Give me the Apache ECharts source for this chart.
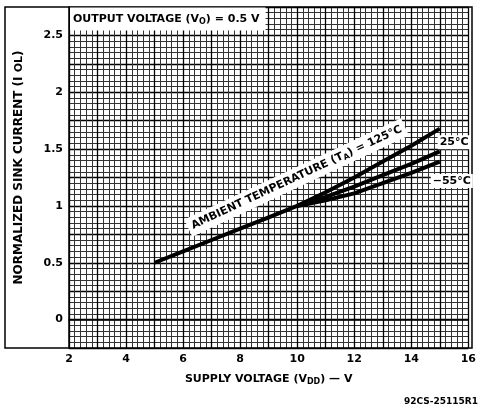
<!DOCTYPE html>
<html>
<head>
<meta charset="utf-8">
<script src="https://cdn.jsdelivr.net/npm/echarts@6/dist/echarts.min.js"></script>
<style>
  html, body { margin: 0; padding: 0; background: #fff; }
  #chart { width: 479px; height: 410px; }
</style>
</head>
<body>
<div id="chart"></div>
<script>
// supply voltage (V) and normalized sink current
const vdd125 = [5, 6, 7, 8, 9, 10, 11, 12, 13, 14, 15];
const iol125 = [0.5, 0.6, 0.7, 0.8, 0.9, 1.0, 1.12, 1.25, 1.39, 1.53, 1.68];
const vdd25 = [10, 11, 12, 13, 14, 15];
const iol25 = [1.0, 1.08, 1.17, 1.27, 1.37, 1.48];
const vddM55 = [10, 11, 12, 13, 14, 15];
const iolM55 = [1.0, 1.05, 1.11, 1.2, 1.29, 1.39];

const xTicks = [2, 4, 6, 8, 10, 12, 14, 16];
const yTicks = [0, 0.5, 1, 1.5, 2, 2.5];

const FONT = 'DejaVu Sans';
const pairs = (xs, ys) => xs.map((x, i) => [x, ys[i]]);

const chart = echarts.init(document.getElementById('chart'));

const lineStyle = { color: '#000', width: 4 };

const option = {
  animation: false,
  backgroundColor: '#fff',
  grid: { left: 69, right: 7, top: 7, bottom: 62, show: false },
  xAxis: {
    type: 'value',
    min: 2,
    max: 16,
    interval: 1,
    name: 'SUPPLY VOLTAGE (V{sub|DD}) \u2014 V',
    nameLocation: 'middle',
    nameGap: 24,
    nameTextStyle: {
      fontFamily: FONT, fontWeight: 'bold', fontSize: 11, color: '#000',
      rich: { sub: { fontFamily: FONT, fontWeight: 'bold', fontSize: 8, verticalAlign: 'bottom', padding: [6, 0, 0, 0] } }
    },
    axisLine: { show: true, lineStyle: { color: '#000', width: 1.5 } },
    axisTick: { show: false },
    axisLabel: {
      margin: 6,
      fontFamily: FONT, fontWeight: 'bold', fontSize: 11, color: '#000',
      formatter: v => (xTicks.indexOf(v) >= 0 ? String(v) : '')
    },
    splitLine: { show: true, lineStyle: { color: '#000', width: 1.3 } },
    minorTick: { show: false, splitNumber: 5 },
    minorSplitLine: { show: true, lineStyle: { color: '#333', width: 1 } }
  },
  yAxis: {
    type: 'value',
    min: -0.25,
    max: 2.75,
    interval: 0.25,
    name: 'NORMALIZED SINK CURRENT (I {sub|OL})',
    nameLocation: 'middle',
    nameGap: 44,
    nameRotate: 90,
    nameTextStyle: {
      fontFamily: FONT, fontWeight: 'bold', fontSize: 12, color: '#000',
      padding: [0, 0, 0, 20],
      rich: { sub: { fontFamily: FONT, fontWeight: 'bold', fontSize: 11, color: '#000' } }
    },
    axisLine: { show: true, lineStyle: { color: '#000', width: 1.5 } },
    axisTick: { show: false },
    axisLabel: {
      margin: 6,
      fontFamily: FONT, fontWeight: 'bold', fontSize: 11, color: '#000',
      formatter: v => {
        const r = Math.round(v * 100) / 100;
        return yTicks.indexOf(r) >= 0 ? String(r) : '';
      }
    },
    splitLine: { show: true, lineStyle: { color: '#000', width: 1.3 } },
    minorTick: { show: false, splitNumber: 5 },
    minorSplitLine: { show: true, lineStyle: { color: '#333', width: 1 } }
  },
  series: [
    { name: '125', type: 'line', data: pairs(vdd125, iol125), symbol: 'none', lineStyle, z: 5 },
    { name: '25', type: 'line', data: pairs(vdd25, iol25), symbol: 'none', lineStyle, z: 5 },
    { name: '-55', type: 'line', data: pairs(vddM55, iolM55), symbol: 'none', lineStyle, z: 5 }
  ]
};

chart.setOption(option);

// annotations placed from data coordinates
const px = (x, y) => chart.convertToPixel({ gridIndex: 0 }, [x, y]);
const labelFont = 'bold 11px "' + FONT + '"';
const subRich = { sub: { font: 'bold 8px "' + FONT + '"', verticalAlign: 'bottom', padding: [5, 0, 0, 0] } };

const pAmb = px(9.98, 1.25);
const p25 = px(15.5, 1.56);
const pM55 = px(15.42, 1.22);

chart.setOption({
  graphic: [
    {
      type: 'rect', z: 50, silent: true,
      shape: { x: 5, y: 7, width: 467, height: 341 },
      style: { fill: 'none', stroke: '#000', lineWidth: 1.5 }
    },
    {
      type: 'text', z: 60, x: 70, y: 19,
      style: {
        text: 'OUTPUT VOLTAGE (V{sub|O}) = 0.5 V',
        font: labelFont, fill: '#000', rich: subRich,
        verticalAlign: 'middle', backgroundColor: '#fff', padding: [5, 6, 5, 3]
      }
    },
    {
      type: 'text', z: 60, x: pAmb[0], y: pAmb[1], rotation: 25 * Math.PI / 180,
      style: {
        text: 'AMBIENT TEMPERATURE (T{sub|A}) = 125\u00B0C',
        font: labelFont, fill: '#000', rich: subRich,
        align: 'center', verticalAlign: 'middle', backgroundColor: '#fff', padding: [3, 4, 3, 4]
      }
    },
    {
      type: 'text', z: 60, x: p25[0], y: p25[1],
      style: {
        text: '25\u00B0C', font: labelFont, fill: '#000',
        align: 'center', verticalAlign: 'middle', backgroundColor: '#fff', padding: [2, 2, 1, 2]
      }
    },
    {
      type: 'text', z: 60, x: pM55[0], y: pM55[1],
      style: {
        text: '\u221255\u00B0C', font: labelFont, fill: '#000',
        align: 'center', verticalAlign: 'middle', backgroundColor: '#fff', padding: [2, 2, 1, 2]
      }
    },
    {
      type: 'text', z: 60, x: 478, y: 402,
      style: { text: '92CS-25115R1', font: 'bold 9px "' + FONT + '"', fill: '#000', align: 'right', verticalAlign: 'middle' }
    }
  ]
});
</script>
</body>
</html>
